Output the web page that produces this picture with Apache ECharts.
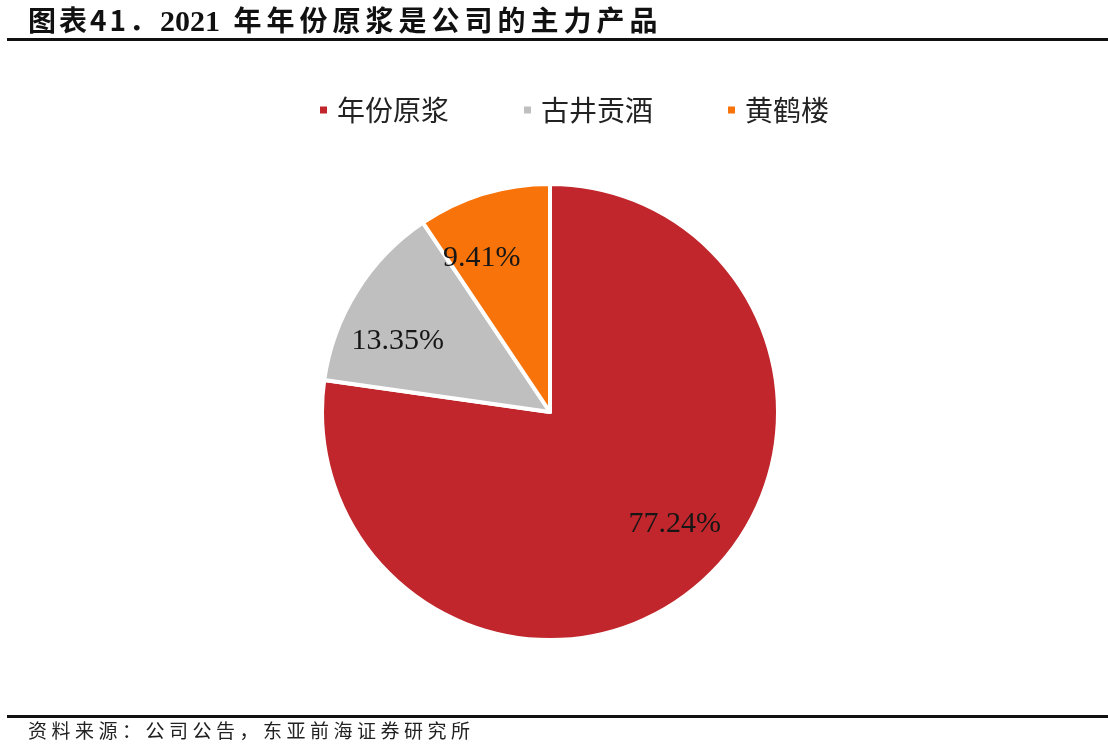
<!DOCTYPE html>
<html>
<head>
<meta charset="utf-8">
<script src="https://cdn.jsdelivr.net/npm/echarts@6/dist/echarts.min.js"></script>
<style>
  html, body {
    margin: 0;
    padding: 0;
    background: #fff;
  }
  .page {
    position: relative;
    width: 1108px;
    height: 748px;
    overflow: hidden;
  }
  .chart-container {
    position: absolute;
    left: 0;
    top: 0;
    width: 1108px;
    height: 748px;
  }
  .title {
    position: absolute;
    left: 28px;
    top: 2px;
    font-family: 'Liberation Serif', 'Noto Sans CJK SC', serif;
    font-weight: bold;
    font-size: 30px;
    line-height: 34px;
    color: #111;
    white-space: nowrap;
  }
  .title .cjk {
    font-family: 'Noto Sans CJK SC', sans-serif;
    font-size: 28px;
    letter-spacing: 5px;
  }
  .title .head {
    letter-spacing: 3px;
  }
  .title .year {
    word-spacing: 6px;
  }
  .rule {
    position: absolute;
    left: 7px;
    right: 0;
    height: 3px;
    background: #111;
  }
  .source {
    position: absolute;
    left: 28px;
    top: 719px;
    font-family: 'Noto Sans CJK SC', sans-serif;
    font-size: 19px;
    line-height: 22px;
    letter-spacing: 4.5px;
    color: #222;
    white-space: nowrap;
  }
</style>
</head>
<body>
<div class="page">
  <div id="chart" class="chart-container"></div>
  <div class="title"><span class="cjk head">图表41．</span><span class="year">2021 </span><span class="cjk">年年份原浆是公司的主力产品</span></div>
  <div class="rule" style="top: 38px;"></div>
  <div class="rule" style="top: 715px;"></div>
  <div class="source">资料来源：公司公告，东亚前海证券研究所</div>
</div>
<script>
// 2021年产品结构（占比，%）
const categories = ['年份原浆', '古井贡酒', '黄鹤楼'];
const shares = [77.24, 13.35, 9.41];

const sliceColors = ['#c0262b', '#bfbfbf', '#f8730a'];

const pieData = categories.map((name, i) => ({
  name: name,
  value: shares[i],
  itemStyle: { color: sliceColors[i] }
}));

const chart = echarts.init(document.getElementById('chart'));

const option = {
  animation: false,
  legend: {
    data: categories.map((name, i) => ({ name: name, itemStyle: { color: sliceColors[i] } })),
    left: 313,
    top: 91,
    icon: 'rect',
    itemWidth: 9,
    itemHeight: 9,
    itemGap: 73,
    selectedMode: false,
    textStyle: {
      fontFamily: 'Noto Sans CJK SC',
      fontSize: 28,
      lineHeight: 28,
      color: '#222',
      padding: [0, 0, 0, 4]
    }
  },
  series: [
    {
      name: '产品结构',
      type: 'pie',
      center: [550, 412],
      radius: [0, 228],
      startAngle: 90,
      clockwise: true,
      silent: true,
      itemStyle: { borderColor: '#fff', borderWidth: 4 },
      label: { show: false },
      labelLine: { show: false },
      emphasis: { disabled: true },
      data: pieData
    },
    {
      // 透明环，仅用于把百分比标签放在靠外的位置
      name: '标签',
      type: 'pie',
      center: [550, 412],
      radius: [104, 226],
      startAngle: 97,
      clockwise: true,
      silent: true,
      avoidLabelOverlap: false,
      legendHoverLink: false,
      itemStyle: { color: 'rgba(0,0,0,0)', borderWidth: 0 },
      label: {
        show: true,
        position: 'inside',
        formatter: '{c}%',
        fontFamily: 'Liberation Serif',
        fontSize: 30,
        color: '#161616'
      },
      labelLine: { show: false },
      emphasis: { disabled: true },
      data: categories.map((name, i) => ({ name: name, value: shares[i] }))
    }
  ]
};

chart.setOption(option);
window.addEventListener('resize', () => {
  chart.resize();
});
</script>
</body>
</html>
